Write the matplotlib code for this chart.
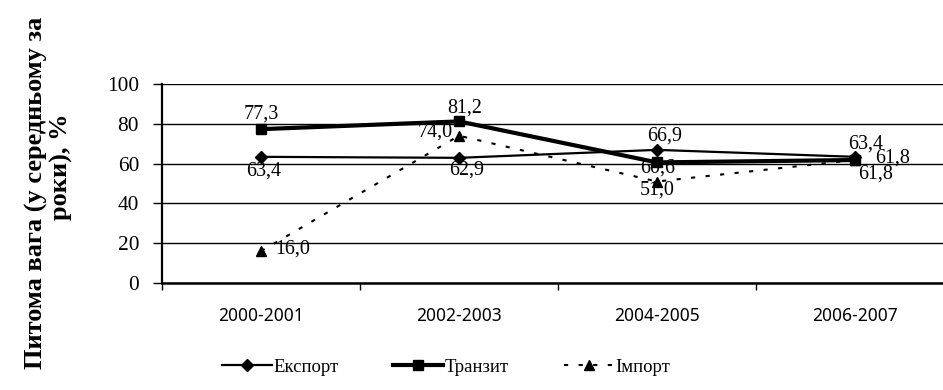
import matplotlib.pyplot as plt

plt.rcParams['font.family'] = ['Liberation Serif', 'DejaVu Serif']

periods = ['2000-2001', '2002-2003', '2004-2005', '2006-2007']
export = [63.4, 62.9, 66.9, 63.4]
transit = [77.3, 81.2, 60.6, 61.8]
imports = [16.0, 74.0, 51.0, 61.8]
ylabel_1 = 'Питома вага (у середньому за'
ylabel_2 = 'роки), %'

# label offsets in points (dx, dy) for each series
export_off = [(2, -10), (5.8, -8.6), (5.8, 10), (8, 9.5)]
transit_off = [(0, 10.8), (4.3, 9.4), (0.7, -4.3), (27, 1.4)]
import_off = [(23, 1.4), (-17, 3), (0, -6.5), (15, -10)]

fig = plt.figure(figsize=(9.43, 3.9), dpi=100)
ax = fig.add_axes([162 / 943, 1 - 283 / 390, (954 - 162) / 943, (283 - 84) / 390])

x = range(len(periods))
ax.plot(x, export, color='black', lw=1.6, marker='D', ms=6.5, label='Експорт')
ax.plot(x, transit, color='black', lw=3, marker='s', ms=7, label='Транзит')
ax.plot(x, imports, color='black', lw=1.5, ls=(0, (2, 5)), marker='^', ms=7.5, label='Імпорт')

for vals, offs in [(export, export_off), (transit, transit_off), (imports, import_off)]:
    for i, (v, o) in enumerate(zip(vals, offs)):
        ax.annotate(f'{v:.1f}'.replace('.', ','), (i, v), xytext=o, textcoords='offset points',
                    ha='center', va='center', fontsize=14.4)

ax.set_xlim(-0.5, 3.5)
ax.set_ylim(0, 100)
ax.set_yticks(range(0, 101, 20))
ax.set_xticks([i + 0.5 for i in range(-1, 4)])
ax.set_xticklabels([])
ax.set_xticks(list(x), minor=True)
ax.set_xticklabels(periods, minor=True, fontsize=12.5, family='Noto Sans')
ax.tick_params(axis='x', which='minor', length=0, pad=17)
ax.tick_params(axis='x', which='major', length=5, direction='out', width=1)
ax.tick_params(axis='y', labelsize=15.4, length=6.5, width=1, pad=10)
ax.grid(axis='y', color='black', lw=1)
ax.set_axisbelow(True)
for s in ['top', 'right']:
    ax.spines[s].set_visible(False)
ax.spines['left'].set_linewidth(1.6)
ax.spines['bottom'].set_linewidth(1.8)

fig.text(36 / 943, 1 - 193 / 390, ylabel_1, rotation=90, ha='center', va='center',
         fontsize=19, fontweight='bold')
fig.text(61 / 943, 1 - 167 / 390, ylabel_2, rotation=90, ha='center', va='center',
         fontsize=19, fontweight='bold')

fig.legend(loc='center', bbox_to_anchor=(446 / 943, 1 - 367 / 390), ncol=3, frameon=False,
           fontsize=13.5, handlelength=2.67, columnspacing=2.9, handletextpad=0.1)

fig.savefig('out.png', dpi=100)
